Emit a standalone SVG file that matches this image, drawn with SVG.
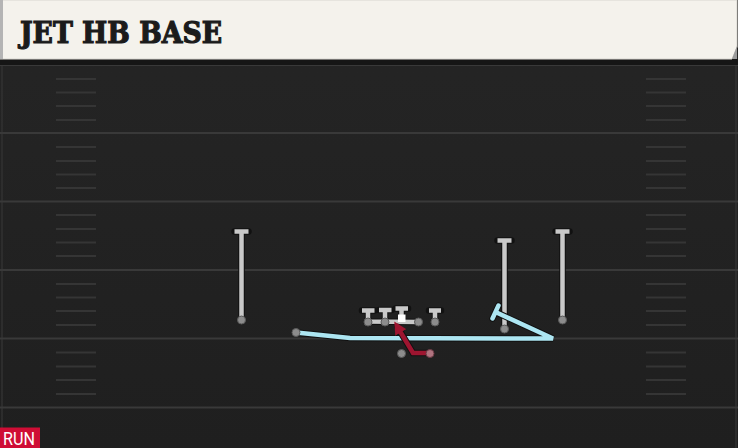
<svg xmlns="http://www.w3.org/2000/svg" width="738" height="448" viewBox="0 0 738 448">
  <defs>
    <style>
      .field { stroke: #393939; stroke-width: 2; }
      .hash { stroke: #353535; stroke-width: 2; }
      .out { fill: none; stroke: #111; stroke-width: 6.5; stroke-linecap: round; stroke-linejoin: miter; }
      .gray { fill: none; stroke: #c9c9c9; stroke-width: 4.5; stroke-linecap: butt; stroke-linejoin: miter; }
      .blue { fill: none; stroke: #ade6f2; stroke-width: 4.5; stroke-linecap: round; stroke-linejoin: miter; }
      .red { fill: none; stroke: #9e1530; stroke-width: 4.5; stroke-linecap: butt; stroke-linejoin: miter; }
      .dot { fill: #8c8c8c; stroke: #5a5a5a; stroke-width: 1; }
      .title { font-family: "DejaVu Serif", "Liberation Serif", serif; font-weight: bold; font-size: 29px; fill: #1b1b1b; stroke: #1b1b1b; stroke-width: 1.2; paint-order: stroke; }
      .tag { font-family: Roboto, "Liberation Sans", sans-serif; font-size: 17.5px; fill: #ffffff; }
    </style>
    <marker id="arr" viewBox="0 0 10 10" refX="5" refY="5" markerWidth="2.8" markerHeight="2.8" orient="auto" markerUnits="strokeWidth">
      <path d="M0,0 L10,5 L0,10 z" fill="#9e1530"/>
    </marker>
    <linearGradient id="bg" x1="0" y1="0" x2="0" y2="1">
      <stop offset="0" stop-color="#252525"/>
      <stop offset="1" stop-color="#1f1f1f"/>
    </linearGradient>
  </defs>

  <!-- field -->
  <rect x="0" y="0" width="738" height="448" fill="url(#bg)"/>
  <line x1="2" y1="60" x2="2" y2="448" stroke="#323232" stroke-width="1.5"/>
  <line x1="736" y1="60" x2="736" y2="448" stroke="#323232" stroke-width="1.5"/>
  <g id="field-lines">
    <line class="field" x1="0" y1="65" x2="738" y2="65"/>
    <line class="field" x1="0" y1="133" x2="738" y2="133"/>
    <line class="field" x1="0" y1="201.5" x2="738" y2="201.5"/>
    <line class="field" x1="0" y1="270" x2="738" y2="270"/>
    <line class="field" x1="0" y1="338.5" x2="738" y2="338.5"/>
    <line class="field" x1="0" y1="407.5" x2="738" y2="407.5"/>
  </g>
  <g id="hash-marks">
    <path class="hash" d="M56 79H96M56 92.5H96M56 106H96M56 120H96M56 147H96M56 161H96M56 174.5H96M56 188H96M56 215H96M56 229H96M56 242.5H96M56 256H96M56 284H96M56 297.5H96M56 311H96M56 325H96M56 352.5H96M56 366.5H96M56 380H96M56 394H96"/>
    <path class="hash" d="M646 79H686M646 92.5H686M646 106H686M646 120H686M646 147H686M646 161H686M646 174.5H686M646 188H686M646 215H686M646 229H686M646 242.5H686M646 256H686M646 284H686M646 297.5H686M646 311H686M646 325H686M646 352.5H686M646 366.5H686M646 380H686M646 394H686"/>
  </g>

  <!-- header -->
  <g id="header">
    <rect x="0" y="59" width="738" height="6" fill="#161616"/>
    <path d="M0 0H737V47L732 59H0Z" fill="#f4f2ec" stroke="#d8d6d0" stroke-width="1"/>
    <path d="M737 46L732 59L737 59Z" fill="#9a9a9a"/>
    <rect x="0" y="0" width="3" height="59" fill="#b4b4b4"/>
    <text class="title" x="20" y="43" textLength="202" lengthAdjust="spacingAndGlyphs">JET HB BASE</text>
  </g>

  <!-- connectors / routes -->
  <g id="connectors">
    <!-- left WR -->
    <path class="out" d="M241.5 320V231.5M234.5 231.5H248.5"/>
    <path class="gray" d="M241.5 320V231.5M234.5 231.5H248.5"/>
    <!-- slot WR -->
    <path class="out" d="M504.5 329V240.5M497.5 240.5H511.5"/>
    <path class="gray" d="M504.5 329V240.5M497.5 240.5H511.5"/>
    <!-- outside WR -->
    <path class="out" d="M562.5 320V231.5M555.5 231.5H569.5"/>
    <path class="gray" d="M562.5 320V231.5M555.5 231.5H569.5"/>
    <!-- offensive line blocks -->
    <path class="out" d="M368 322V310.5M362 310.5H374.5M385 322V310M379 310H391.5M401.5 318V308.5M395.5 308.5H408M368 321.5L418 322M435 322V310.5M429 310.5H441"/>
    <path class="gray" d="M368 322V310.5M362 310.5H374.5M385 322V310M379 310H391.5M401.5 318V308.5M395.5 308.5H408M368 321.5L418 322M435 322V310.5M429 310.5H441"/>
    <!-- jet motion -->
    <path class="out" d="M296 332.5L350 338L553 338.5L495.5 312M498.5 305.5L492.5 318.5"/>
    <path class="blue" d="M296 332.5L350 338L553 338.5L495.5 312M498.5 305.5L492.5 318.5"/>
    <!-- HB run -->
    <path class="out" d="M430 353H413L397.5 327" stroke-linecap="butt"/>
    <path class="red" d="M430 353H413L397.5 327" marker-end="url(#arr)"/>
  </g>

  <!-- players -->
  <g id="wr-left"><circle class="dot" cx="241.5" cy="320" r="4"/></g>
  <g id="wr-slot"><circle class="dot" cx="504.5" cy="329" r="4"/></g>
  <g id="wr-right"><circle class="dot" cx="562.5" cy="320" r="4"/></g>
  <g id="jet"><circle class="dot" cx="296" cy="332.5" r="4"/></g>
  <g id="lt"><circle class="dot" cx="368" cy="322" r="4"/></g>
  <g id="lg"><circle class="dot" cx="385" cy="322" r="4"/></g>
  <g id="center"><rect x="398" y="314.5" width="7.5" height="7.5" fill="#ffffff"/></g>
  <g id="rg"><circle class="dot" cx="418.5" cy="322" r="4"/></g>
  <g id="rt"><circle class="dot" cx="435" cy="322" r="4"/></g>
  <g id="qb"><circle class="dot" cx="401.5" cy="353.5" r="4"/></g>
  <g id="hb"><circle cx="430" cy="353.5" r="4" fill="#b07480" stroke="#6a3a44" stroke-width="1"/></g>

  <!-- badge -->
  <g id="run-badge">
    <rect x="0" y="427.5" width="40" height="20.5" fill="#cf0d35"/>
    <text class="tag" x="3" y="445" textLength="32" lengthAdjust="spacingAndGlyphs">RUN</text>
  </g>
</svg>
